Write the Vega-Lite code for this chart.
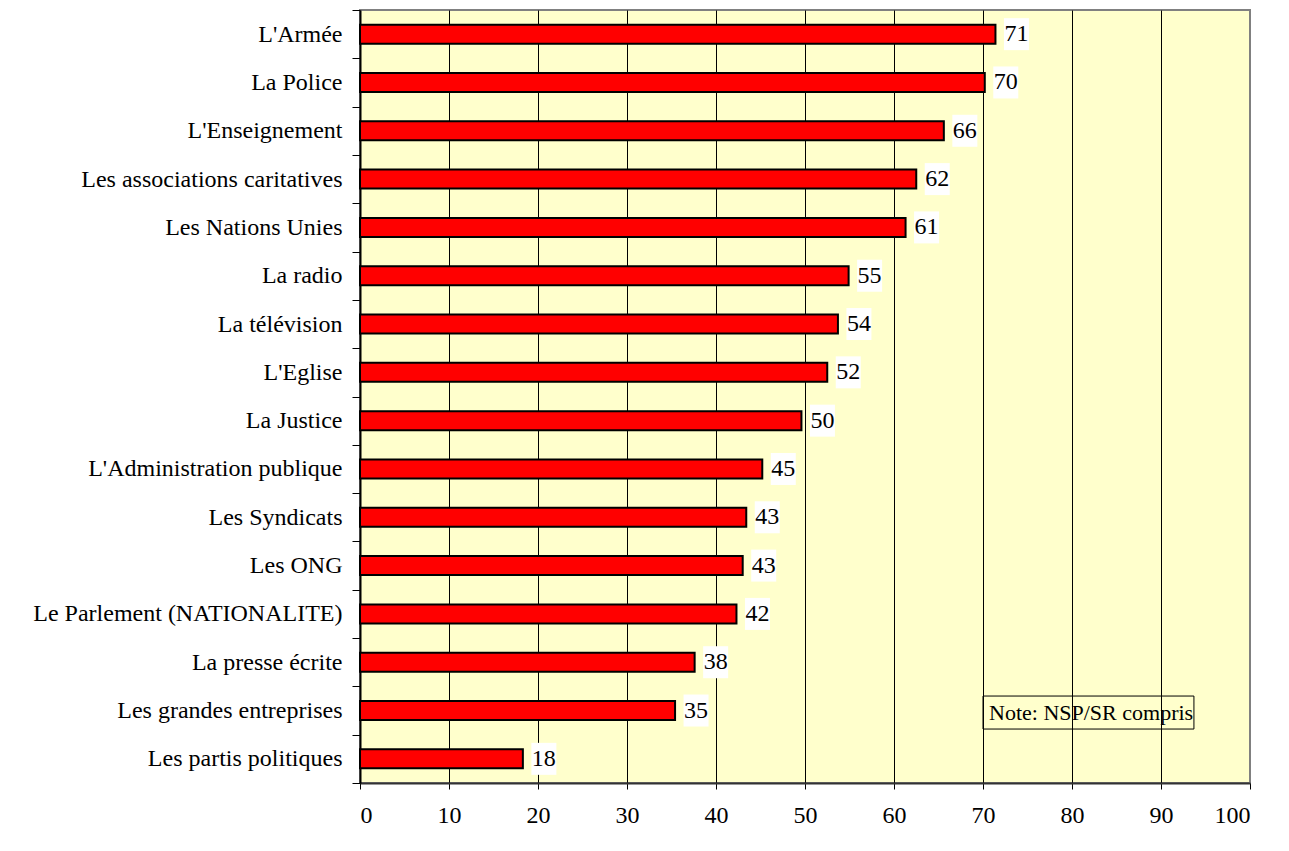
{
  "$schema": "https://vega.github.io/schema/vega-lite/v6.json",
  "width": 890,
  "height": 773,
  "autosize": {"type": "none"},
  "padding": {"left": 360, "top": 10, "right": 39, "bottom": 68},
  "background": "white",
  "config": {
    "view": {"fill": "#FFFFCC", "stroke": "#808080", "strokeWidth": 2},
    "font": "Liberation Serif"
  },
  "data": {
    "values": [
      {"institution": "L'Armée", "pct": 71.4, "label": "71"},
      {"institution": "La Police", "pct": 70.2, "label": "70"},
      {"institution": "L'Enseignement", "pct": 65.6, "label": "66"},
      {"institution": "Les associations caritatives", "pct": 62.5, "label": "62"},
      {"institution": "Les Nations Unies", "pct": 61.3, "label": "61"},
      {"institution": "La radio", "pct": 54.9, "label": "55"},
      {"institution": "La télévision", "pct": 53.7, "label": "54"},
      {"institution": "L'Eglise", "pct": 52.5, "label": "52"},
      {"institution": "La Justice", "pct": 49.6, "label": "50"},
      {"institution": "L'Administration publique", "pct": 45.2, "label": "45"},
      {"institution": "Les Syndicats", "pct": 43.4, "label": "43"},
      {"institution": "Les ONG", "pct": 43.0, "label": "43"},
      {"institution": "Le Parlement (NATIONALITE)", "pct": 42.3, "label": "42"},
      {"institution": "La presse écrite", "pct": 37.6, "label": "38"},
      {"institution": "Les grandes entreprises", "pct": 35.4, "label": "35"},
      {"institution": "Les partis politiques", "pct": 18.3, "label": "18"}
    ]
  },
  "encoding": {
    "y": {
      "field": "institution",
      "type": "nominal",
      "sort": null,
      "scale": {
        "domain": ["L'Armée", "La Police", "L'Enseignement", "Les associations caritatives", "Les Nations Unies", "La radio", "La télévision", "L'Eglise", "La Justice", "L'Administration publique", "Les Syndicats", "Les ONG", "Le Parlement (NATIONALITE)", "La presse écrite", "Les grandes entreprises", "Les partis politiques"],
        "paddingInner": 0,
        "paddingOuter": 0
      },
      "axis": {
        "title": null,
        "tickBand": "extent",
        "tickSize": 8,
        "tickColor": "#000",
        "tickWidth": 1,
        "domainColor": "#000",
        "domainWidth": 2,
        "labelFont": "Liberation Serif",
        "labelFontSize": 24,
        "labelColor": "#000",
        "labelPadding": 10,
        "labelLimit": 400,
        "grid": false
      }
    }
  },
  "layer": [
    {
      "mark": {"type": "bar", "fill": "#FF0000", "stroke": "#000", "strokeWidth": 2, "height": 19},
      "encoding": {
        "x": {
          "field": "pct",
          "type": "quantitative",
          "scale": {"domain": [0, 100], "nice": false},
          "axis": {
            "title": null,
            "values": [0, 10, 20, 30, 40, 50, 60, 70, 80, 90, 100],
            "tickSize": 6,
            "tickColor": "#000",
            "domainColor": "#333",
            "domainWidth": 2,
            "grid": true,
            "gridColor": "#000",
            "gridWidth": 1,
            "gridOpacity": {"condition": {"test": "datum.value === 0 || datum.value === 100", "value": 0}, "value": 1},
            "labelFont": "Liberation Serif",
            "labelFontSize": 24,
            "labelColor": "#000",
            "labelPadding": 14
          }
        }
      }
    },
    {
      "mark": {"type": "rect", "fill": "white", "width": 25, "height": 32, "xOffset": 21},
      "encoding": {
        "x": {"field": "pct", "type": "quantitative"}
      }
    },
    {
      "mark": {"type": "text", "align": "left", "baseline": "middle", "dx": 9, "font": "Liberation Serif", "fontSize": 24, "color": "#000"},
      "encoding": {
        "x": {"field": "pct", "type": "quantitative"},
        "text": {"field": "label"}
      }
    },
    {
      "data": {"values": [{"note": "Note: NSP/SR compris"}]},
      "mark": {"type": "bar", "filled": false, "stroke": "#000", "strokeWidth": 1, "height": 33, "yOffset": 2},
      "encoding": {
        "x": {"datum": 70},
        "x2": {"datum": 93.7},
        "y": {"datum": "Les grandes entreprises"}
      }
    },
    {
      "data": {"values": [{"note": "Note: NSP/SR compris"}]},
      "mark": {"type": "text", "align": "left", "baseline": "middle", "dx": 6, "yOffset": 2, "font": "Liberation Serif", "fontSize": 22, "color": "#000"},
      "encoding": {
        "x": {"datum": 70},
        "y": {"datum": "Les grandes entreprises"},
        "text": {"field": "note"}
      }
    }
  ]
}
